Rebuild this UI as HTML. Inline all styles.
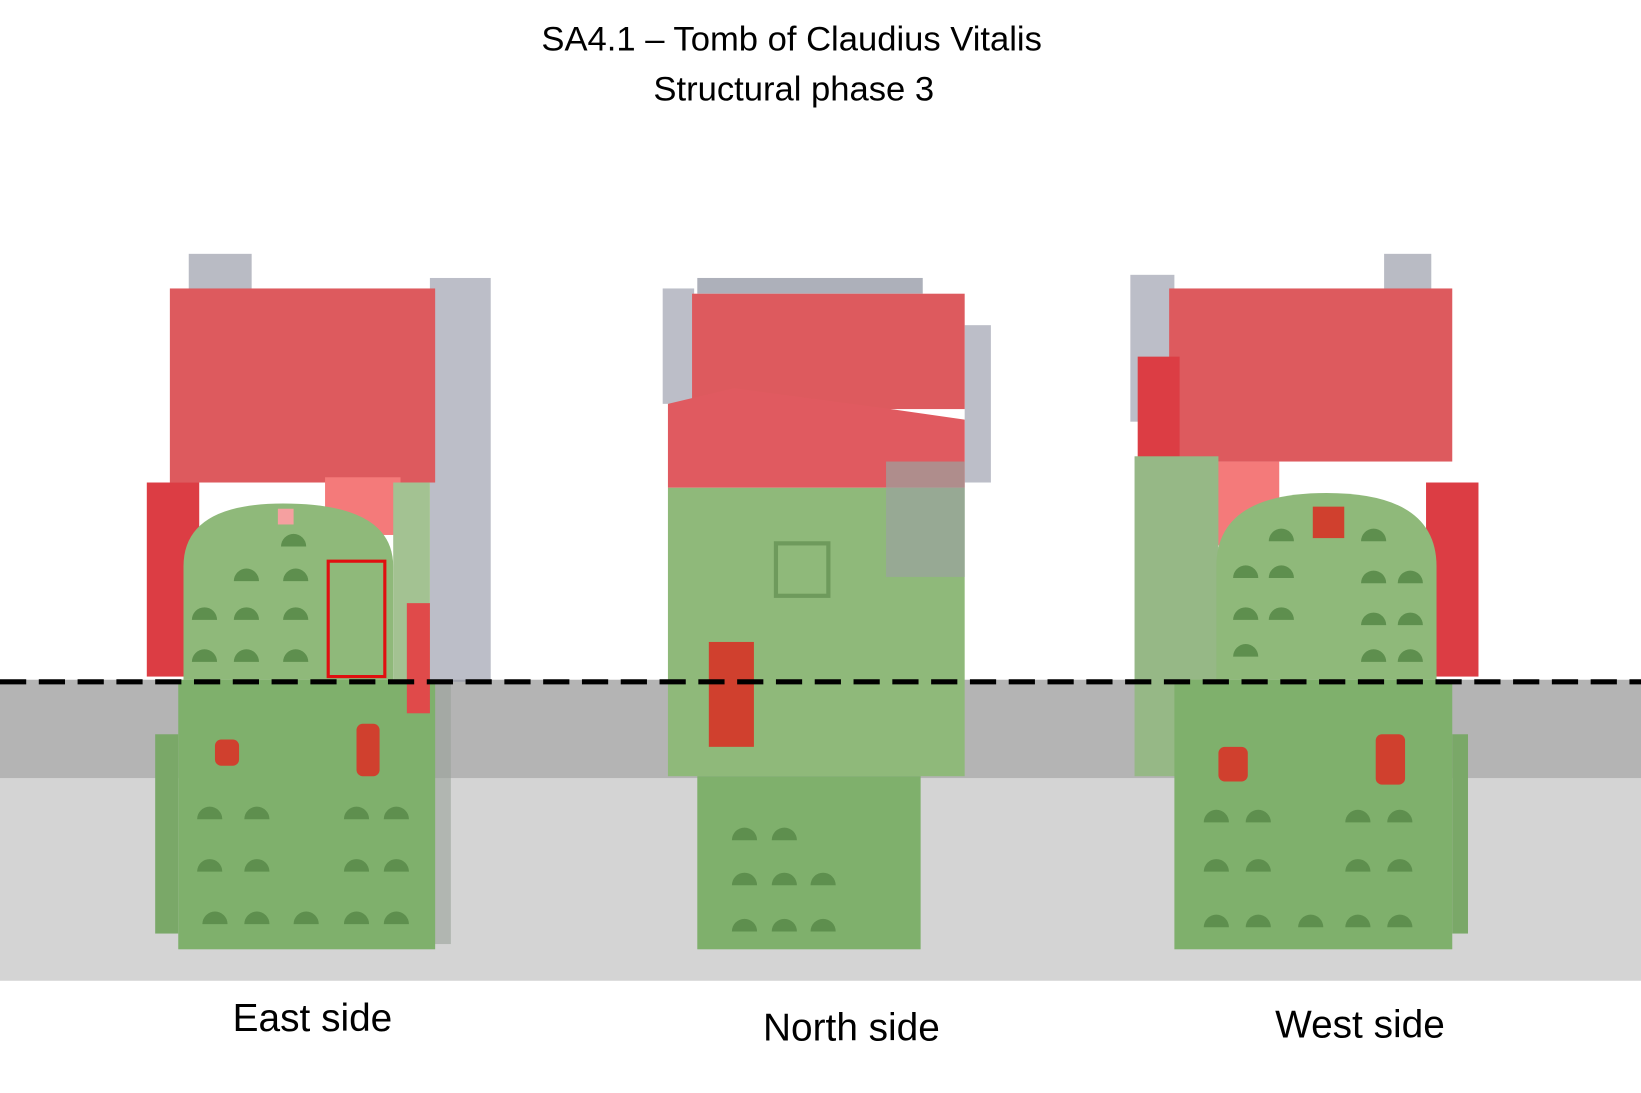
<!DOCTYPE html>
<html><head><meta charset="utf-8"><style>
html,body{margin:0;padding:0;background:#fff;width:1641px;height:1093px;overflow:hidden}
svg{display:block}
text{font-family:"Liberation Sans",sans-serif;fill:#000}
</style></head><body>
<svg width="1641" height="1093" viewBox="0 0 1565 1042" preserveAspectRatio="none">
<defs>
<path id="n" d="M-12 6 A12 12 0 0 1 12 6 Z" fill="#5e8f4e"/>
</defs>
<rect x="0" y="0" width="1565" height="1042" fill="#fff"/>
<rect x="0" y="648" width="1565" height="94" fill="#b4b4b4"/>
<rect x="0" y="742" width="1565" height="193" fill="#d4d4d4"/>

<!-- East side -->
<rect x="410" y="265" width="58" height="385" fill="#8f93a3" opacity="0.6"/>
<rect x="410" y="650" width="20" height="250" fill="#9aa29a" opacity="0.6"/>
<rect x="180" y="242" width="60" height="40" fill="#8a8e9c" opacity="0.6"/>
<rect x="162" y="275" width="253" height="185" fill="#dd5a5e"/>
<rect x="140" y="460" width="50" height="185" fill="#dc3d44"/>
<rect x="310" y="455" width="72" height="55" fill="#f47a7a"/>
<path d="M175 648 V540 Q175 480 270 480 Q375 480 375 540 V648 Z" fill="#8fb97a"/>
<rect x="375" y="460" width="35" height="190" fill="#a3c292"/>
<rect x="170" y="648" width="245" height="257" fill="#7fb06c"/>
<rect x="148" y="700" width="22" height="190" fill="#7aa868"/>
<g>
<use href="#n" x="280" y="515"/>
<use href="#n" x="235" y="548"/><use href="#n" x="282" y="548"/>
<use href="#n" x="195" y="585"/><use href="#n" x="235" y="585"/><use href="#n" x="282" y="585"/>
<use href="#n" x="195" y="625"/><use href="#n" x="235" y="625"/><use href="#n" x="282" y="625"/>
<use href="#n" x="200" y="775"/><use href="#n" x="245" y="775"/><use href="#n" x="340" y="775"/><use href="#n" x="378" y="775"/>
<use href="#n" x="200" y="825"/><use href="#n" x="245" y="825"/><use href="#n" x="340" y="825"/><use href="#n" x="378" y="825"/>
<use href="#n" x="205" y="875"/><use href="#n" x="245" y="875"/><use href="#n" x="292" y="875"/><use href="#n" x="340" y="875"/><use href="#n" x="378" y="875"/>
</g>
<rect x="388" y="575" width="22" height="105" fill="#e04a4a"/>
<rect x="313" y="535" width="54" height="110" fill="none" stroke="#e01010" stroke-width="3"/>
<rect x="205" y="705" width="23" height="25" rx="6" fill="#d0402e"/>
<rect x="340" y="690" width="22" height="50" rx="6" fill="#d0402e"/>
<rect x="265" y="485" width="15" height="15" fill="#f5a0a0"/>

<!-- North side -->
<rect x="632" y="275" width="30" height="110" fill="#8f93a3" opacity="0.6"/>
<rect x="665" y="265" width="215" height="15" fill="#8a8e9c" opacity="0.7"/>
<rect x="920" y="310" width="25" height="150" fill="#8f93a3" opacity="0.6"/>
<rect x="660" y="280" width="260" height="110" fill="#dd5a5e"/>
<path d="M637 385 L700 370 L850 390 L920 400 V465 H637 Z" fill="#e05a60"/>
<rect x="637" y="465" width="283" height="275" fill="#8fb97a"/>
<rect x="845" y="440" width="75" height="110" fill="#9aa2a0" opacity="0.7"/>
<rect x="665" y="740" width="213" height="165" fill="#7fb06c"/>
<g>
<use href="#n" x="710" y="795"/><use href="#n" x="748" y="795"/>
<use href="#n" x="710" y="838"/><use href="#n" x="748" y="838"/><use href="#n" x="785" y="838"/>
<use href="#n" x="710" y="882"/><use href="#n" x="748" y="882"/><use href="#n" x="785" y="882"/>
</g>
<rect x="740" y="518" width="50" height="50" fill="none" stroke="#6e9a5c" stroke-width="4"/>
<rect x="676" y="612" width="43" height="100" fill="#d0402e"/>

<!-- West side -->
<rect x="1078" y="262" width="42" height="140" fill="#8f93a3" opacity="0.6"/>
<rect x="1320" y="242" width="45" height="40" fill="#8a8e9c" opacity="0.6"/>
<rect x="1115" y="275" width="270" height="165" fill="#dd5a5e"/>
<rect x="1085" y="340" width="40" height="100" fill="#dc3d44"/>
<rect x="1360" y="460" width="50" height="185" fill="#dc3d44"/>
<rect x="1160" y="440" width="60" height="80" fill="#f47a7a"/>
<rect x="1082" y="435" width="80" height="305" fill="#96b886"/>
<path d="M1160 648 V540 Q1160 470 1265 470 Q1370 470 1370 540 V648 Z" fill="#8fb97a"/>
<rect x="1120" y="648" width="265" height="257" fill="#7fb06c"/>
<rect x="1385" y="700" width="15" height="190" fill="#7aa868"/>
<g>
<use href="#n" x="1222" y="510"/><use href="#n" x="1310" y="510"/>
<use href="#n" x="1188" y="545"/><use href="#n" x="1222" y="545"/><use href="#n" x="1310" y="550"/><use href="#n" x="1345" y="550"/>
<use href="#n" x="1188" y="585"/><use href="#n" x="1222" y="585"/><use href="#n" x="1310" y="590"/><use href="#n" x="1345" y="590"/>
<use href="#n" x="1188" y="620"/><use href="#n" x="1310" y="625"/><use href="#n" x="1345" y="625"/>
<use href="#n" x="1160" y="778"/><use href="#n" x="1200" y="778"/><use href="#n" x="1295" y="778"/><use href="#n" x="1335" y="778"/>
<use href="#n" x="1160" y="825"/><use href="#n" x="1200" y="825"/><use href="#n" x="1295" y="825"/><use href="#n" x="1335" y="825"/>
<use href="#n" x="1160" y="878"/><use href="#n" x="1200" y="878"/><use href="#n" x="1250" y="878"/><use href="#n" x="1295" y="878"/><use href="#n" x="1335" y="878"/>
</g>
<rect x="1252" y="483" width="30" height="30" fill="#d0402e"/>
<rect x="1162" y="712" width="28" height="33" rx="6" fill="#d0402e"/>
<rect x="1312" y="700" width="28" height="48" rx="6" fill="#d0402e"/>

<line x1="0" y1="650" x2="1565" y2="650" stroke="#000" stroke-width="5" stroke-dasharray="25 12"/>

<text x="755" y="48" font-size="33" text-anchor="middle">SA4.1 – Tomb of Claudius Vitalis</text>
<text x="757" y="96" font-size="33" text-anchor="middle">Structural phase 3</text>
<text x="298" y="983" font-size="37" text-anchor="middle">East side</text>
<text x="812" y="992" font-size="37" text-anchor="middle">North side</text>
<text x="1297" y="989" font-size="37" text-anchor="middle">West side</text>
</svg>
</body></html>
